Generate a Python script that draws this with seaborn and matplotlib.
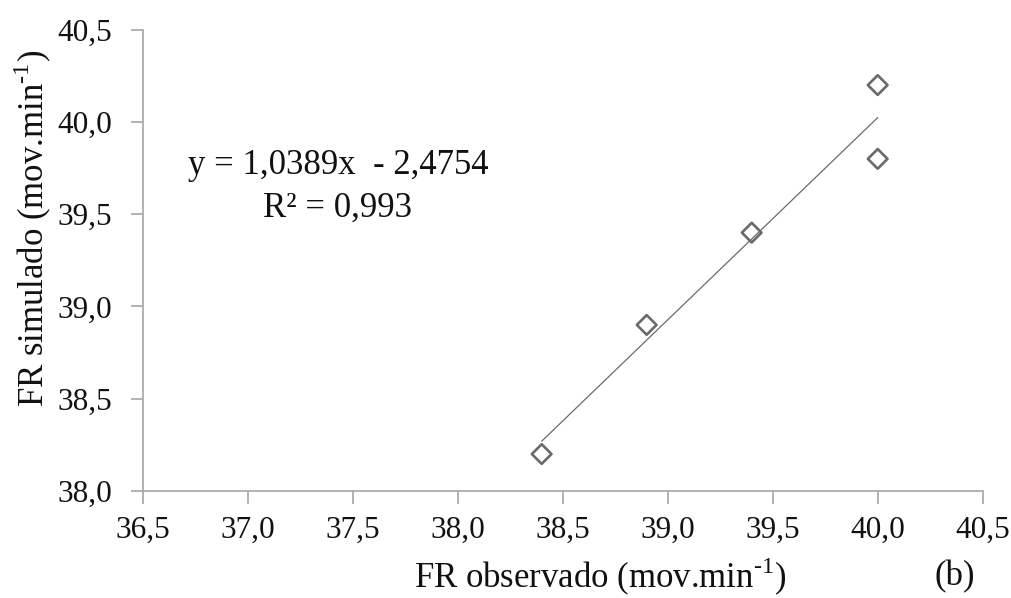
import matplotlib
matplotlib.use("Agg")
import matplotlib.pyplot as plt
import seaborn as sns
import pandas as pd

# observed vs simulated respiratory frequency
fr_observado = [38.4, 38.9, 39.4, 40.0, 40.0]
fr_simulado = [38.2, 38.9, 39.4, 39.8, 40.2]
x_ticks = [36.5, 37.0, 37.5, 38.0, 38.5, 39.0, 39.5, 40.0, 40.5]
y_ticks = [38.0, 38.5, 39.0, 39.5, 40.0, 40.5]
equation = "y = 1,0389x  - 2,4754"
r2_text = "R² = 0,993"

df = pd.DataFrame({'obs': fr_observado, 'sim': fr_simulado})

sns.set_style('white')
plt.rcParams['font.family'] = ['Liberation Serif', 'DejaVu Serif']
plt.rcParams['mathtext.fontset'] = 'custom'
plt.rcParams['mathtext.rm'] = 'Liberation Serif'

fig = plt.figure(figsize=(10.11, 5.98), dpi=100)
ax = fig.add_axes([0.1411, 0.179, 0.8309, 0.7713])

gray = '#a6a6a6'
txt = '#111111'
sns.regplot(data=df, x='obs', y='sim', ax=ax, scatter=False, ci=None,
            line_kws={'color': '#6b6b6b', 'lw': 0.9})
sns.scatterplot(data=df, x='obs', y='sim', ax=ax, marker='D', s=100,
                facecolor='none', edgecolor='#6a6a6a', linewidth=1.9, zorder=3)

ax.set_xlim(36.5, 40.5)
ax.set_ylim(38.0, 40.5)
ax.set_xticks(x_ticks)
ax.set_yticks(y_ticks)
ax.set_xticklabels([f"{v:.1f}".replace('.', ',') for v in x_ticks])
ax.set_yticklabels([f"{v:.1f}".replace('.', ',') for v in y_ticks])

for side in ['top', 'right']:
    ax.spines[side].set_visible(False)
for side in ['left', 'bottom']:
    ax.spines[side].set_color(gray)
    ax.spines[side].set_linewidth(1.2)
ax.tick_params(axis='both', direction='out', length=9, width=1.2, color=gray,
               labelsize=22.5, labelcolor=txt)
ax.tick_params(axis='x', pad=9)
ax.tick_params(axis='y', pad=13)
ax.tick_params(axis='both', which='both', bottom=True, left=True)

ax.set_xlabel(r"FR observado (mov.min$^{\text{-1}}$)", fontsize=25, color=txt)
ax.set_ylabel(r"FR simulado (mov.min$^{\text{-1}}$)", fontsize=25, color=txt)
ax.xaxis.set_label_coords(0.545, -0.187)
ax.xaxis.label.set_va('center')
ax.yaxis.set_label_coords(-0.1306, 0.57)
ax.yaxis.label.set_va('center')

ax.text(0.2325, 0.705, equation, transform=ax.transAxes, fontsize=25,
        ha='center', va='center', color=txt)
ax.text(0.2325, 0.612, r2_text, transform=ax.transAxes, fontsize=25,
        ha='center', va='center', color=txt)
fig.text(955 / 1011, 1 - 577 / 598, "(b)", fontsize=25, ha='center', va='center', color=txt)

fig.savefig('out.png', dpi=100)
